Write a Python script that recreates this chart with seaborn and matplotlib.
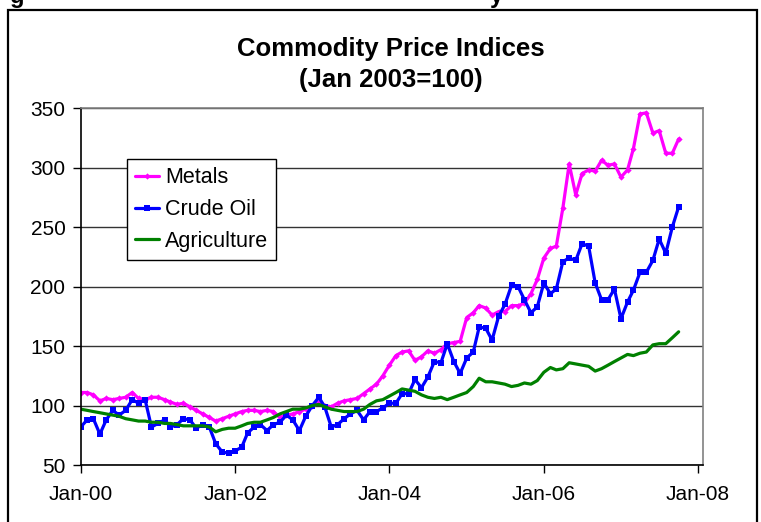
import pandas as pd
import matplotlib.pyplot as plt
import matplotlib.dates as mdates
import seaborn as sns
from matplotlib.patches import Rectangle

# Monthly index values, Jan 2000 - Oct 2007 (Jan 2003 = 100)
months = pd.date_range("2000-01-01", periods=94, freq="MS")

metals = [111, 111, 109, 104, 106, 105, 106, 107, 111, 106, 105, 107,
          107, 105, 103, 101, 102, 99, 96, 93, 90, 87, 89, 91,
          93, 95, 96, 96, 95, 96, 95, 90, 92, 93, 95, 97,
          100, 103, 100, 99, 102, 104, 105, 106, 110, 114, 118, 125,
          134, 142, 145, 146, 138, 141, 146, 144, 147, 152, 153, 154,
          174, 178, 184, 182, 176, 179, 179, 184, 184, 186, 194, 206,
          224, 232, 234, 266, 303, 277, 295, 298, 297, 306, 302, 303,
          292, 298, 316, 345, 346, 329, 331, 312, 312, 324]

crude_oil = [82, 88, 89, 76, 88, 96, 92, 96, 105, 102, 105, 82,
             85, 88, 82, 84, 89, 88, 81, 84, 82, 68, 61, 60,
             62, 65, 77, 82, 84, 79, 84, 86, 92, 88, 79, 91,
             100, 107, 99, 82, 84, 89, 93, 96, 88, 95, 95, 98,
             102, 102, 110, 110, 122, 115, 124, 137, 136, 152, 137, 127,
             140, 145, 166, 165, 155, 175, 185, 201, 200, 189, 178, 183,
             203, 194, 198, 221, 224, 222, 236, 234, 203, 189, 189, 198,
             173, 187, 197, 212, 212, 222, 240, 228, 250, 267]

agriculture = [97, 96, 95, 94, 93, 92, 91, 89, 88, 87, 87, 86,
               86, 85, 85, 84, 83, 83, 83, 83, 82, 78, 80, 81,
               81, 83, 85, 86, 86, 88, 90, 93, 95, 97, 97, 98,
               100, 101, 99, 97, 96, 95, 95, 95, 97, 101, 104, 105,
               108, 111, 114, 113, 112, 109, 107, 106, 107, 105, 107, 109,
               111, 116, 123, 120, 120, 119, 118, 116, 117, 119, 118, 121,
               128, 132, 130, 131, 136, 135, 134, 133, 129, 131, 134, 137,
               140, 143, 142, 144, 145, 151, 152, 152, 157, 162]

df = pd.DataFrame({"Date": months, "Metals": metals,
                   "Crude Oil": crude_oil, "Agriculture": agriculture})

sns.set_theme(style="white")
plt.rcParams["font.family"] = ["Liberation Sans", "DejaVu Sans"]
plt.rcParams["text.color"] = "black"

fig = plt.figure(figsize=(7.61, 5.22), dpi=100)
ax = fig.add_axes([0.106, 0.109, 0.818, 0.684])

sns.lineplot(data=df, x="Date", y="Metals", ax=ax, color="#FF00FF", lw=2.3,
             marker="D", markersize=3.2, markeredgewidth=0, label="Metals")
sns.lineplot(data=df, x="Date", y="Crude Oil", ax=ax, color="#0000FF", lw=2.3,
             marker="s", markersize=4.5, markeredgewidth=0, label="Crude Oil")
sns.lineplot(data=df, x="Date", y="Agriculture", ax=ax, color="#008000", lw=2.3,
             label="Agriculture")

ax.set_ylim(50, 350)
ax.set_yticks(range(50, 351, 50))
ax.set_xlim(pd.Timestamp("2000-01-01"), pd.Timestamp("2008-01-25"))
ax.xaxis.set_major_locator(mdates.YearLocator(2))
ax.xaxis.set_major_formatter(mdates.DateFormatter("%b-%y"))
ax.set_xlabel("")
ax.set_ylabel("")

ax.set_axisbelow(True)
ax.yaxis.grid(True, color="#333333", lw=1)
ax.xaxis.grid(False)
for side in ["left", "bottom"]:
    ax.spines[side].set_color("black")
    ax.spines[side].set_linewidth(1.2)
for side in ["top", "right"]:
    ax.spines[side].set_color("#808080")
    ax.spines[side].set_linewidth(1.2)
ax.tick_params(axis="both", direction="out", length=6, width=1, color="black",
               labelsize=15, labelcolor="black", left=True, bottom=True)
ax.tick_params(axis="x", pad=8)
ax.tick_params(axis="y", pad=5)

leg = ax.legend(loc="upper left", bbox_to_anchor=(0.074, 0.857), borderaxespad=0,
                fontsize=15.5, frameon=True, fancybox=False, edgecolor="black",
                framealpha=1, handlelength=1.1, handletextpad=0.3,
                labelspacing=0.5, borderpad=0.38)
leg.get_frame().set_linewidth(1)
for t in leg.get_texts():
    t.set_color("black")

fig.text(0.513, 0.876, "Commodity Price Indices\n(Jan 2003=100)",
         ha="center", va="center", fontsize=18.5, fontweight="bold",
         linespacing=1.35, color="black")

# outer chart frame and the clipped caption above it
fig.patches.append(Rectangle((8 / 761, -0.05), 749 / 761, 1.05 - 10 / 522,
                             transform=fig.transFigure, fill=False,
                             edgecolor="black", lw=1.6))
fig.text(10 / 761, 1 - 2.5 / 522, "g", fontsize=17, fontweight="bold",
         va="baseline", color="black")
fig.text(490 / 761, 1 - 2.5 / 522, "y", fontsize=17, fontweight="bold",
         va="baseline", color="black")

fig.savefig("out.png", dpi=100)
